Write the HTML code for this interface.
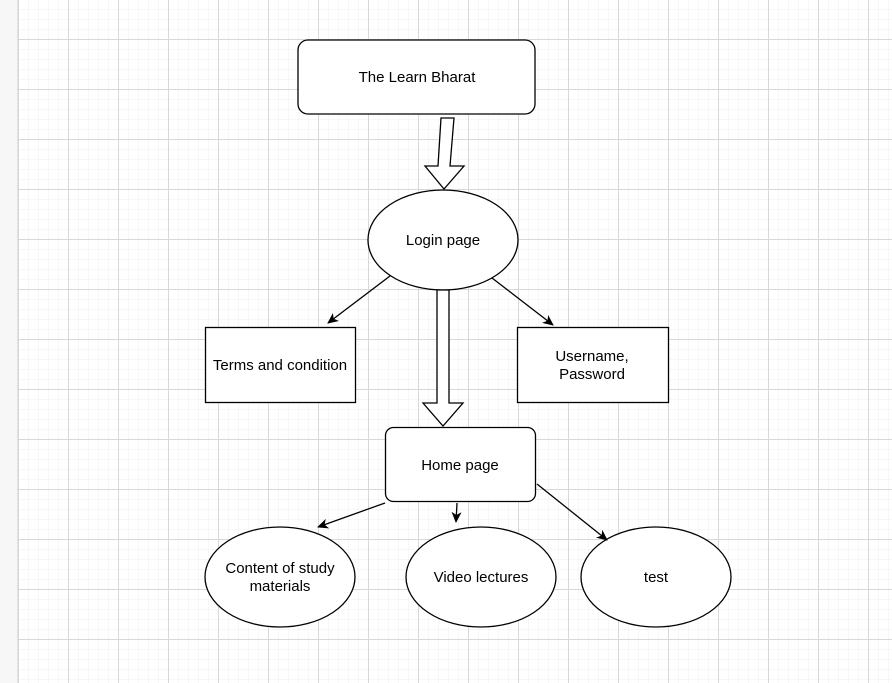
<!DOCTYPE html>
<html><head><style>
html,body{margin:0;padding:0;width:892px;height:683px;overflow:hidden;background:#fff}
</style></head><body>
<svg width="892" height="683" xmlns="http://www.w3.org/2000/svg" font-family="Liberation Sans, Arial, sans-serif" font-size="15">
<defs>
<pattern id="minor" x="18" y="9" width="10" height="10" patternUnits="userSpaceOnUse">
<path d="M0 0H10M0 0V10" stroke="#efefef" stroke-width="1" fill="none"/>
</pattern>
<pattern id="major" x="18" y="-11" width="50" height="50" patternUnits="userSpaceOnUse">
<path d="M0 0.5H50M0.5 0V50" stroke="#d8d8d8" stroke-width="1" fill="none"/>
</pattern>
<marker id="a" markerWidth="12" markerHeight="10" refX="10" refY="5" orient="auto" markerUnits="userSpaceOnUse">
<path d="M0 0L11 5L0 10L3 5Z" fill="#000"/>
</marker>
</defs>
<rect x="0" y="0" width="892" height="683" fill="#fff"/>
<rect x="18" y="0" width="874" height="683" fill="url(#minor)"/>
<rect x="18" y="0" width="874" height="683" fill="url(#major)"/>
<rect x="0" y="0" width="17" height="683" fill="#f7f7f7"/>
<line x1="17.5" y1="0" x2="17.5" y2="683" stroke="#e2e2e2"/>

<g stroke="#000" stroke-width="1.3" fill="#fff">
<rect x="298" y="40" width="237" height="74" rx="10"/>
<path d="M441 118L454 118L450 166L464 166L444 189L425 166L438 166Z"/>
<ellipse cx="443" cy="240" rx="75" ry="50"/>
<path d="M437 290L449 290L449 403L463 403L443 426L423 403L437 403Z"/>
<rect x="205.5" y="327.5" width="150" height="75"/>
<rect x="517.5" y="327.5" width="151" height="75"/>
<rect x="385.5" y="427.5" width="150" height="74" rx="8"/>
<ellipse cx="280" cy="577" rx="75" ry="50"/>
<ellipse cx="481" cy="577" rx="75" ry="50"/>
<ellipse cx="656" cy="577" rx="75" ry="50"/>
</g>
<g stroke="#000" stroke-width="1.3" fill="none">
<line x1="390" y1="276" x2="328" y2="323" marker-end="url(#a)"/>
<line x1="492" y1="278" x2="553" y2="325" marker-end="url(#a)"/>
<line x1="385" y1="503" x2="318" y2="527" marker-end="url(#a)"/>
<line x1="457" y1="503" x2="456" y2="522" marker-end="url(#a)"/>
<line x1="537" y1="484" x2="607" y2="540" marker-end="url(#a)"/>
</g>
<g fill="#000" text-anchor="middle">
<text x="417" y="82">The Learn Bharat</text>
<text x="443" y="245">Login page</text>
<text x="280" y="370">Terms and condition</text>
<text x="592" y="361">Username,</text>
<text x="592" y="379">Password</text>
<text x="460" y="470">Home page</text>
<text x="280" y="573">Content of study</text>
<text x="280" y="591">materials</text>
<text x="481" y="582">Video lectures</text>
<text x="656" y="582">test</text>
</g>
</svg>
</body></html>
